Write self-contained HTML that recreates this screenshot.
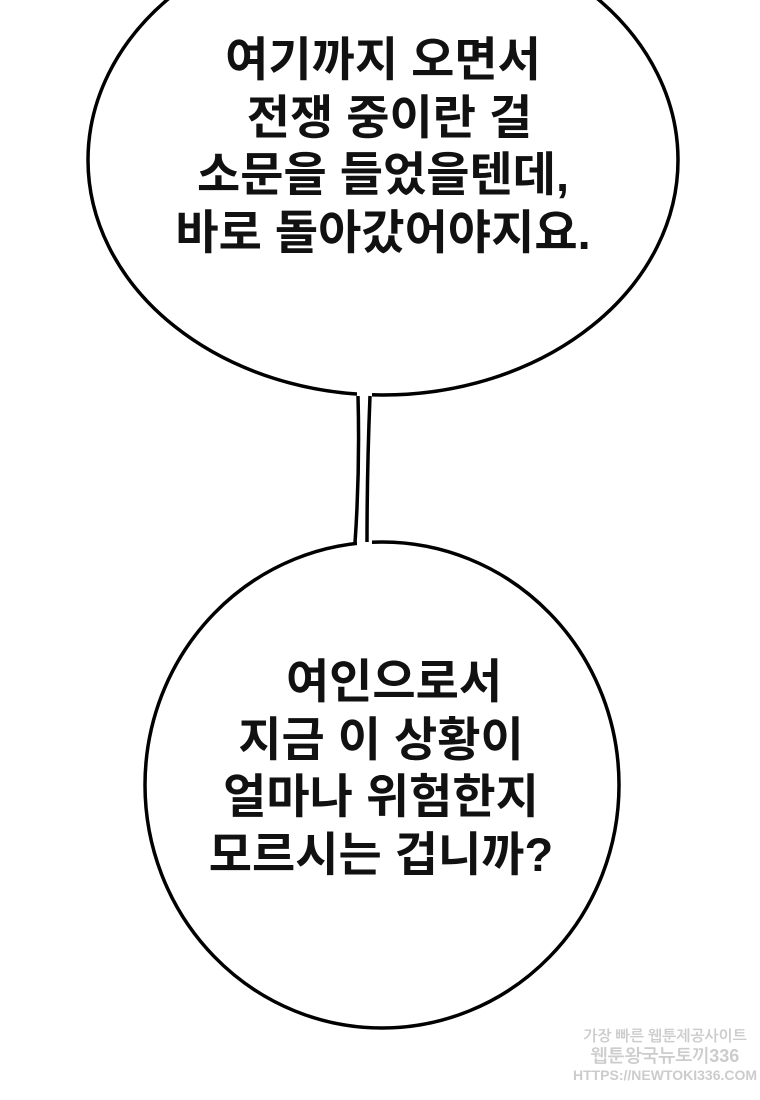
<!DOCTYPE html>
<html><head><meta charset="utf-8"><style>
html,body{margin:0;padding:0;background:#fff;}
body{width:760px;height:1100px;position:relative;overflow:hidden;}
svg{position:absolute;left:0;top:0;}
.t{position:absolute;left:0;width:766px;text-align:center;font-family:"Liberation Sans","Noto Sans CJK KR","NanumGothic",sans-serif;font-weight:bold;font-size:47px;line-height:57.5px;color:#111;white-space:pre;}
</style></head><body>
<svg width="760" height="1100" viewBox="0 0 760 1100">
<g fill="#fff" stroke="#000" stroke-width="3.5">
<ellipse cx="383" cy="160" rx="295" ry="235"/>
<ellipse cx="382" cy="785" rx="237" ry="243"/>
</g>
<rect x="357" y="385" width="15" height="165" fill="#fff"/>
<path d="M358 396 Q360 470 355 543" fill="none" stroke="#000" stroke-width="3.5"/>
<path d="M370 396 Q367 470 367 542" fill="none" stroke="#000" stroke-width="3.5"/>
<g font-family="Liberation Sans,NanumGothic,sans-serif" fill="#ccc" font-weight="bold" text-anchor="middle">
<text x="665" y="1041" font-size="15">가장 빠른 웹툰제공사이트</text>
<text x="665" y="1062" font-size="18">웹툰왕국뉴토끼336</text>
<text x="665" y="1080" font-size="14">HTTPS://NEWTOKI336.COM</text>
</g>
</svg>
<div class="t" style="top:31px;">여기까지 오면서
 전쟁 중이란 걸
소문을 들었을텐데,
바로 돌아갔어야지요.</div>
<div class="t" style="top:653px;left:-2px;">  여인으로서
지금 이 상황이
얼마나 위험한지
모르시는 겁니까?</div>
</body></html>
